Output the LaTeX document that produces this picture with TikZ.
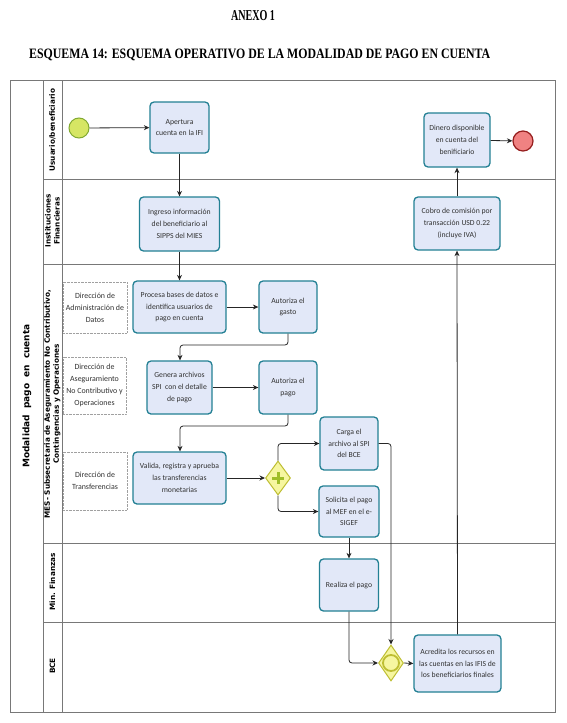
\documentclass[tikz,border=0pt]{standalone}
\usepackage{fontspec}
\usepackage{graphicx}
\setmainfont{Carlito}
\newfontfamily\titlefont{Liberation Serif}
\newfontfamily\lanefont{DejaVu Sans}
\usetikzlibrary{arrows.meta,shapes.geometric}
\definecolor{taskfill}{RGB}{226,232,248}
\definecolor{taskdraw}{RGB}{35,128,148}
\definecolor{txtgray}{RGB}{50,50,50}
\definecolor{lanegray}{RGB}{120,120,120}
\definecolor{startfill}{RGB}{214,230,100}
\definecolor{startdraw}{RGB}{130,170,50}
\definecolor{endfill}{RGB}{240,130,130}
\definecolor{enddraw}{RGB}{150,30,30}
\definecolor{gwfill}{RGB}{246,246,160}
\definecolor{gwdraw}{RGB}{190,190,50}
\definecolor{plusgreen}{RGB}{160,190,40}
\tikzset{
  task/.style={draw=taskdraw, line width=1.3pt, fill=taskfill, rounded corners=4pt,
    align=center, inner sep=1pt, text=txtgray,
    font=\fontsize{7.7}{11.8}\selectfont},
  sublane/.style={draw=lanegray!70, densely dotted, align=center, inner sep=1pt,
    text=txtgray, font=\fontsize{7.9}{11.8}\selectfont},
  lanelbl/.style={rotate=90, align=center, font=\lanefont\bfseries\fontsize{7.3}{9}\selectfont},
  flow/.style={draw=black!85, line width=0.8pt, rounded corners=3pt,
    -{Stealth[length=5.5pt,width=5pt]}},
  gateway/.style={diamond, draw=gwdraw, line width=1pt, fill=gwfill, inner sep=0pt},
  lane/.style={draw=lanegray, line width=1pt}
}
\begin{document}
\begin{tikzpicture}[x=1pt,y=-1pt]
\useasboundingbox (0,0) rectangle (566,723);
\fill[white] (0,0) rectangle (566,723);

% titles
\node[anchor=base, inner sep=0] (anexo) at (253,20)
  {\resizebox{44pt}{10pt}{\titlefont\bfseries ANEXO 1}};
\node[anchor=base west, inner sep=0] (esquema) at (29,58)
  {\resizebox{461pt}{9.5pt}{\titlefont\bfseries ESQUEMA 14: ESQUEMA OPERATIVO DE LA MODALIDAD DE PAGO EN CUENTA}};

% pool and lanes
\draw[lane] (10,80) rectangle (555,712);
\draw[lane] (43,80) -- (43,712);
\draw[lane] (62,80) -- (62,712);
\draw[lane] (43,179) -- (555,179);
\draw[lane] (43,264) -- (555,264);
\draw[lane] (43,543) -- (555,543);
\draw[lane] (43,622) -- (555,622);

\node[rotate=90, font=\lanefont\bfseries\fontsize{9}{11}\selectfont] (pool) at (27,396)
  {Modalidad\hspace{3pt} pago\hspace{3pt} en\hspace{3pt} cuenta};
\node[lanelbl] (l1) at (52.5,130) {Usuario/beneficiario};
\node[lanelbl] (l2) at (52.5,221) {Instituciones\\Financieras};
\node[lanelbl] (l3) at (52.5,404) {MES- Subsecretaria de Aseguramiento No Contributivo,\\Contingencias y Operaciones};
\node[lanelbl] (l4) at (52.5,582) {Min. Finanzas};
\node[lanelbl] (l5) at (52.5,666) {BCE};

% sub-lane labels
\node[sublane, minimum width=64pt, minimum height=51pt] (dad) at (95,307.5)
  {Dirección de\\Administración de\\Datos};
\node[sublane, minimum width=63pt, minimum height=57pt] (dan) at (94.5,385.5)
  {Dirección de\\Aseguramiento\\No Contributivo y\\Operaciones};
\node[sublane, minimum width=64pt, minimum height=58pt] (dt) at (95,481)
  {Dirección de\\Transferencias};

% events
\node[circle, draw=startdraw, fill=startfill, line width=1pt, minimum size=20pt, inner sep=0] (start) at (79,128) {};
\node[circle, draw=enddraw, fill=endfill, line width=1.2pt, minimum size=20pt, inner sep=0] (end) at (523,141) {};

% tasks
\node[task, minimum width=59pt, minimum height=51pt] (apertura) at (179.5,127.5) {Apertura\\cuenta en la IFI};
\node[task, minimum width=80pt, minimum height=54pt] (ingreso) at (179.5,224) {Ingreso información\\del beneficiario al\\SIPPS del MIES};
\node[task, minimum width=66pt, minimum height=54pt] (dinero) at (457,140) {Dinero disponible\\en cuenta del\\benificiario};
\node[task, minimum width=86pt, minimum height=53pt] (cobro) at (457,223.5) {Cobro de comisión por\\transacción USD 0.22\\(incluye IVA)};
\node[task, minimum width=93pt, minimum height=52pt] (procesa) at (179.5,307) {Procesa bases de datos e\\identifica usuarios de\\pago en cuenta};
\node[task, minimum width=58pt, minimum height=52pt] (autgasto) at (288,307) {Autoriza el\\gasto};
\node[task, minimum width=65pt, minimum height=53pt] (genera) at (179.5,387.5) {Genera archivos\\SPI\ \ con el detalle\\de pago};
\node[task, minimum width=58pt, minimum height=53pt] (autpago) at (288,387.5) {Autoriza el\\pago};
\node[task, minimum width=93pt, minimum height=52pt] (valida) at (179.5,478) {Valida, registra y aprueba\\las transferencias\\monetarias};
\node[task, minimum width=58pt, minimum height=53pt] (carga) at (349,443.5) {Carga el\\archivo al SPI\\del BCE};
\node[task, minimum width=60pt, minimum height=51pt] (solicita) at (349,511.5) {Solicita el pago\\al MEF en el e-\\SIGEF};
\node[task, minimum width=59pt, minimum height=52pt] (realiza) at (349,585) {Realiza el pago};
\node[task, minimum width=87pt, minimum height=57pt] (acredita) at (457.5,663.5) {Acredita los recursos en\\las cuentas en las IFIS de\\los beneficiarios finales};

% gateways
\node[gateway, minimum width=25pt, minimum height=34pt] (gw1) at (278,478) {};
\draw[plusgreen, line width=3pt] (272,478) -- (284,478) (278,472) -- (278,484);
\node[gateway, minimum width=25pt, minimum height=36pt] (gw2) at (391,663) {};
\node[circle, draw=gwdraw, line width=1.8pt, minimum size=16pt, inner sep=0] (gw2c) at (gw2) {};

% flows
\draw[flow] (start) -- (apertura);
\draw[flow] (apertura.south) -- (apertura.south |- ingreso.north);
\draw[flow] (ingreso.south) -- (ingreso.south |- procesa.north);
\draw[flow] (procesa) -- (autgasto);
\draw[flow] (autgasto.south) -- (288,345) -- (180,345) -- (180,0 |- genera.north);
\draw[flow] (genera) -- (autpago);
\draw[flow] (autpago.south) -- (288,426) -- (180,426) -- (180,0 |- valida.north);
\draw[flow] (valida) -- (gw1);
\draw[flow] (gw1.north) |- (carga.west);
\draw[flow] (gw1.south) |- (solicita.west);
\draw[flow] (carga.east) -| (gw2.north);
\draw[flow] (solicita.south) -- (solicita.south |- realiza.north);
\draw[flow] (realiza.south) |- (gw2.west);
\draw[flow] (gw2.east) -- (acredita.west);
\draw[flow] (acredita.north) -- (cobro.south);
\draw[flow] (cobro.north) -- (dinero.south);
\draw[flow] (dinero) -- (end);
\end{tikzpicture}
\end{document}
